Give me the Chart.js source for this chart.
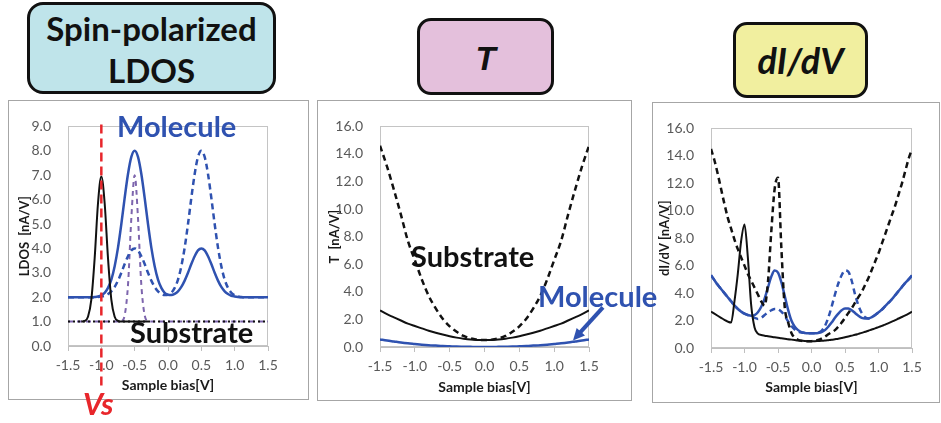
<!DOCTYPE html>
<html><head><meta charset="utf-8">
<script src="https://cdn.jsdelivr.net/npm/chart.js@4/dist/chart.umd.min.js"></script>
<style>
body{margin:0;background:#fff;}
#wrap{position:relative;width:941px;height:423px;overflow:hidden;font-family:Lato,'Liberation Sans',sans-serif;}
.tbox{position:absolute;box-sizing:border-box;border:3px solid #111;text-align:center;color:#111;font-weight:700;}
.panel{position:absolute;box-sizing:border-box;border:1px solid #a6a6a6;background:#fff;}
.panel canvas{display:block;}
.ann{position:absolute;font-weight:700;line-height:1;white-space:nowrap;}
</style></head><body>
<div id="wrap">
  <div class="tbox" style="left:27px;top:2px;width:249px;height:92px;border-radius:16px;background:#bfe4ea;font-size:33px;line-height:42px;padding-top:2px;">Spin-polarized<br>LDOS</div>
  <div class="tbox" style="left:417px;top:18px;width:137px;height:77px;border-radius:14px;background:#e4c0dc;font-family:'Liberation Sans',Arial,sans-serif;font-style:italic;font-size:33px;line-height:71px;padding-top:2px;">T</div>
  <div class="tbox" style="left:733px;top:22px;width:135px;height:76px;border-radius:14px;background:#f1ef9f;font-style:italic;font-size:36px;line-height:70px;">dI/dV</div>

  <div class="panel" style="left:8px;top:100px;width:301px;height:300px;"><canvas id="c1" width="299" height="298" style="width:299px;height:298px;"></canvas></div>
  <div class="panel" style="left:317px;top:100px;width:315px;height:301px;"><canvas id="c2" width="313" height="299" style="width:313px;height:299px;"></canvas></div>
  <div class="panel" style="left:652px;top:102px;width:288px;height:301px;"><canvas id="c3" width="286" height="299" style="width:286px;height:299px;"></canvas></div>

  <span class="ann" style="left:117px;top:111px;font-size:29px;color:#2f52b0;">Molecule</span>
  <span class="ann" style="left:130px;top:317px;font-size:29px;color:#111;">Substrate</span>
  <span class="ann" style="left:411px;top:241px;font-size:29px;color:#111;">Substrate</span>
  <span class="ann" style="left:538px;top:281px;font-size:29px;color:#2f52b0;">Molecule</span>
  <span class="ann" style="left:83px;top:388px;font-size:31px;color:#e8262b;font-style:italic;">Vs</span>
</div>
<script>
// ---------- data ----------
const bias = [-1.5,-1.45,-1.4,-1.35,-1.3,-1.25,-1.2,-1.15,-1.1,-1.05,
  -1.0,-0.95,-0.9,-0.85,-0.8,-0.75,-0.7,-0.65,-0.6,-0.55,
  -0.5,-0.45,-0.4,-0.35,-0.3,-0.25,-0.2,-0.15,-0.1,-0.05,
  0,
  0.05,0.1,0.15,0.2,0.25,0.3,0.35,0.4,0.45,0.5,
  0.55,0.6,0.65,0.7,0.75,0.8,0.85,0.9,0.95,1.0,
  1.05,1.1,1.15,1.2,1.25,1.3,1.35,1.4,1.45,1.5];
const biasSub = [-1.3,-1.25,-1.2,-1.15,-1.1,-1.05,-1.0,-0.95,-0.9,-0.85,-0.8,-0.75,-0.7,-0.65,-0.6,-0.55,-0.5,-0.45,-0.4,-0.35,-0.3];
const biasEnds = [-1.5, 1.5];
const biasT = [-1.5,-1.4,-1.3,-1.2,-1.1,-1.0,-0.9,-0.8,-0.7,-0.6,-0.5,-0.4,-0.3,-0.2,-0.1,0,0.1,0.2,0.3,0.4,0.5,0.6,0.7,0.8,0.9,1.0,1.1,1.2,1.3,1.4,1.5];

const xTickValues = [-1.5,-1.0,-0.5,0,0.5,1.0,1.5];
const xTickLabels = ['-1.5','-1.0','-0.5','0.0','0.5','1.0','1.5'];
const ldosTickValues = [0,1,2,3,4,5,6,7,8,9];
const ldosTickLabels = ['0.0','1.0','2.0','3.0','4.0','5.0','6.0','7.0','8.0','9.0'];
const tTickValues = [0,2,4,6,8,10,12,14,16];
const tTickLabels = ['0.0','2.0','4.0','6.0','8.0','10.0','12.0','14.0','16.0'];

const vsBias = -1.0;

// LDOS panel
const ldosMolSolid = [2.0,2.0,2.0,2.0,2.0,2.0,2.0,2.0,2.01,2.03,
  2.08,2.18,2.38,2.72,3.27,4.03,5.0,6.07,7.05,7.75,
  8.0,7.75,7.05,6.07,5.0,4.03,3.27,2.72,2.38,2.18,
  2.1,
  2.09,2.14,2.24,2.42,2.68,3.0,3.36,3.68,3.92,4.0,
  3.92,3.68,3.36,3.0,2.68,2.42,2.24,2.13,2.06,2.03,
  2.01,2.0,2.0,2.0,2.0,2.0,2.0,2.0,2.0,2.0];
const ldosMolDashed = [2.0,2.0,2.0,2.0,2.0,2.0,2.0,2.0,2.0,2.01,
  2.03,2.06,2.13,2.24,2.42,2.68,3.0,3.36,3.68,3.92,
  4.0,3.92,3.68,3.36,3.0,2.68,2.42,2.24,2.14,2.09,
  2.1,
  2.18,2.38,2.72,3.27,4.03,5.0,6.07,7.05,7.75,8.0,
  7.75,7.05,6.07,5.0,4.03,3.27,2.72,2.38,2.18,2.08,
  2.03,2.01,2.0,2.0,2.0,2.0,2.0,2.0,2.0,2.0];
const ldosPurple = [1.0,1.0,1.0,1.0,1.0,1.0,1.0,1.0,1.0,1.0,
  1.0,1.0,1.0,1.0,1.0,1.0,1.02,1.26,2.5,5.24,
  7.0,5.24,2.5,1.26,1.02,1.0,1.0,1.0,1.0,1.0,
  1.0,
  1.0,1.0,1.0,1.0,1.0,1.0,1.0,1.0,1.0,1.0,
  1.0,1.0,1.0,1.0,1.0,1.0,1.0,1.0,1.0,1.0,
  1.0,1.0,1.0,1.0,1.0,1.0,1.0,1.0,1.0,1.0];
const ldosSubSolid = [1.0,1.03,1.2,1.9,3.6,5.85,6.95,5.85,3.6,1.9,1.2,1.03,1.0,1.0,1.0,1.0,1.0,1.0,1.0,1.0,1.0];
const ldosSubDotted = [1.0, 1.0];

// T panel
const tSubDashed = [14.6,13.1,11.4,9.6,7.7,6.3,4.9,3.7,2.8,2.05,1.5,1.1,0.8,0.62,0.53,0.5,0.53,0.62,0.8,1.1,1.5,2.05,2.8,3.7,4.9,6.3,7.7,9.6,11.4,13.1,14.6];
const tSubSolid = [2.65,2.38,2.15,1.92,1.7,1.52,1.35,1.18,1.03,0.9,0.78,0.68,0.6,0.54,0.51,0.5,0.51,0.54,0.6,0.68,0.78,0.9,1.03,1.18,1.35,1.52,1.7,1.92,2.15,2.38,2.65];
const tMol = [0.55,0.47,0.4,0.33,0.27,0.22,0.17,0.13,0.1,0.07,0.05,0.03,0.02,0.01,0.0,0.0,0.0,0.01,0.02,0.03,0.05,0.07,0.1,0.13,0.17,0.22,0.27,0.33,0.4,0.47,0.55];
const arrowTip = {x: 1.27, y: 0.48};

// dI/dV panel
const didvSubDashed = [14.5,13.7,12.7,11.6,10.5,9.5,8.7,7.9,7.2,6.6,
  6.0,5.4,4.9,4.4,3.9,3.4,3.1,4.8,8.5,11.6,
  12.4,7.3,3.0,1.9,1.1,0.75,0.6,0.53,0.5,0.5,
  0.5,
  0.52,0.58,0.68,0.82,1.0,1.15,1.3,1.55,1.85,2.2,
  2.55,2.9,3.3,3.7,4.1,4.6,5.1,5.7,6.3,6.9,
  7.6,8.3,9.0,9.7,10.4,11.2,12.0,12.9,13.8,14.5];
const didvSubSolid = [2.65,2.5,2.35,2.2,2.05,1.92,1.85,3.4,5.4,7.8,
  9.0,6.6,3.1,1.5,1.05,0.95,0.9,0.86,0.82,0.78,
  0.75,0.71,0.68,0.64,0.61,0.58,0.55,0.53,0.51,0.5,
  0.5,
  0.5,0.51,0.52,0.54,0.57,0.6,0.64,0.68,0.73,0.78,
  0.84,0.9,0.96,1.03,1.1,1.18,1.26,1.35,1.43,1.52,
  1.61,1.7,1.81,1.92,2.03,2.15,2.26,2.38,2.51,2.65];
const didvMolSolid = [5.3,4.95,4.6,4.3,4.0,3.7,3.4,3.1,2.85,2.65,
  2.5,2.4,2.35,2.4,2.6,3.0,3.6,4.4,5.2,5.65,
  5.5,4.8,3.8,2.8,2.0,1.55,1.3,1.15,1.1,1.08,
  1.08,
  1.08,1.1,1.15,1.3,1.55,1.85,2.2,2.5,2.75,2.88,
  2.88,2.75,2.55,2.35,2.2,2.15,2.15,2.25,2.4,2.6,
  2.8,3.05,3.3,3.55,3.85,4.15,4.45,4.75,5.0,5.3];
const didvMolDashed = [5.3,4.95,4.6,4.3,4.0,3.7,3.4,3.1,2.85,2.65,
  2.5,2.4,2.3,2.2,2.12,2.2,2.4,2.6,2.75,2.85,
  2.82,2.65,2.35,1.95,1.6,1.35,1.2,1.12,1.1,1.08,
  1.08,
  1.08,1.12,1.25,1.6,2.2,3.0,3.9,4.7,5.3,5.65,
  5.55,4.9,3.9,3.1,2.55,2.25,2.15,2.25,2.4,2.6,
  2.8,3.05,3.3,3.55,3.85,4.15,4.45,4.75,5.0,5.3];

// ---------- styles ----------
const BLUE = '#2f52b0', BLACK = '#111111', PURPLE = '#7d65ad', RED = '#e8262b';
Chart.defaults.font.family = "Lato, 'Liberation Sans', sans-serif";
Chart.defaults.color = '#595959';

function ds(xs, ys, color, width, dash) {
  return {data: xs.map((x, i) => ({x: x, y: ys[i]})), borderColor: color, borderWidth: width,
    borderDash: dash || [], cubicInterpolationMode: 'monotone', pointRadius: 0, fill: false};
}

const framePlugin = {
  id: 'frame',
  beforeDatasetsDraw(c) {
    const a = c.chartArea, ctx = c.ctx;
    ctx.save(); ctx.strokeStyle = '#c4c4c4'; ctx.lineWidth = 1;
    ctx.strokeRect(Math.round(a.left) + 0.5, Math.round(a.top) + 0.5, Math.round(a.width) - 1, Math.round(a.height) - 1);
    ctx.restore();
  }
};

function makeChart(id, o) {
  return new Chart(document.getElementById(id), {
    type: 'line',
    data: {datasets: o.datasets},
    options: {
      responsive: false, animation: false, devicePixelRatio: 1,
      layout: {padding: {left: 0, top: o.padTop, right: o.padRight, bottom: 0}},
      plugins: {legend: {display: false}, tooltip: {enabled: false}},
      elements: {point: {radius: 0}},
      scales: {
        x: {
          type: 'linear', min: -1.5, max: 1.5,
          afterBuildTicks: s => { s.ticks = xTickValues.map(v => ({value: v})); },
          afterFit: s => { s.height = o.xHeight; },
          ticks: {callback: (v, i) => xTickLabels[i], color: '#595959', font: {size: 14}, padding: 6, maxRotation: 0, autoSkip: false},
          grid: {drawOnChartArea: false, drawTicks: true, tickLength: 5, color: '#bfbfbf'},
          border: {color: '#bfbfbf'},
          title: {display: true, text: 'Sample bias[V]', color: '#1a1a1a', font: {size: 14, weight: 'bold'}, padding: {top: 0, bottom: o.xTitlePad}}
        },
        y: {
          type: 'linear', min: 0, max: o.yMax,
          afterBuildTicks: s => { s.ticks = o.yTicks.map(v => ({value: v})); },
          afterFit: s => { s.width = o.yWidth; },
          ticks: {callback: (v, i) => o.yLabels[i], color: '#595959', font: {size: 14}, padding: 17, autoSkip: false},
          grid: {drawOnChartArea: false, drawTicks: false},
          border: {color: '#bfbfbf'},
          title: {display: true, text: o.yTitle, color: '#1a1a1a', font: {size: 13, weight: 'bold'}, padding: {top: o.yTitlePad, bottom: 0}}
        }
      }
    },
    plugins: [framePlugin].concat(o.plugins || [])
  });
}

const vsPlugin = {
  id: 'vs',
  afterDatasetsDraw(c) {
    const ctx = c.ctx, x = c.scales.x.getPixelForValue(vsBias);
    ctx.save(); ctx.strokeStyle = RED; ctx.lineWidth = 2.5; ctx.setLineDash([9, 5]);
    ctx.beginPath(); ctx.moveTo(x, c.chartArea.top - 2); ctx.lineTo(x, c.chartArea.bottom + 42); ctx.stroke();
    ctx.restore();
  }
};

const arrowPlugin = {
  id: 'arrow',
  afterDatasetsDraw(c) {
    const ctx = c.ctx;
    const tx = c.scales.x.getPixelForValue(arrowTip.x), ty = c.scales.y.getPixelForValue(arrowTip.y);
    const sx = tx + 30, sy = ty - 33;
    const ang = Math.atan2(ty - sy, tx - sx), head = 13;
    ctx.save(); ctx.strokeStyle = BLUE; ctx.fillStyle = BLUE; ctx.lineWidth = 4;
    ctx.beginPath(); ctx.moveTo(sx, sy); ctx.lineTo(tx - Math.cos(ang) * head * 0.8, ty - Math.sin(ang) * head * 0.8); ctx.stroke();
    ctx.beginPath(); ctx.moveTo(tx, ty);
    ctx.lineTo(tx - head * Math.cos(ang - 0.45), ty - head * Math.sin(ang - 0.45));
    ctx.lineTo(tx - head * Math.cos(ang + 0.45), ty - head * Math.sin(ang + 0.45));
    ctx.closePath(); ctx.fill();
    ctx.restore();
  }
};

makeChart('c1', {
  padTop: 14, padRight: 40, xHeight: 53, yWidth: 59, xTitlePad: 5, yTitlePad: 8,
  yMax: 9, yTicks: ldosTickValues, yLabels: ldosTickLabels, yTitle: 'LDOS  [nA/V]',
  datasets: [
    ds(biasSub, ldosSubSolid, BLACK, 2),
    ds(bias, ldosMolSolid, BLUE, 2.5),
    ds(bias, ldosMolDashed, BLUE, 2.5, [6, 4]),
    ds(biasEnds, ldosSubDotted, BLACK, 2, [2, 3]),
    ds(bias, ldosPurple, PURPLE, 2, [5, 4])
  ],
  plugins: [vsPlugin]
});

makeChart('c2', {
  padTop: 14, padRight: 42, xHeight: 53, yWidth: 62, xTitlePad: 4, yTitlePad: 9,
  yMax: 16, yTicks: tTickValues, yLabels: tTickLabels, yTitle: 'T  [nA/V]',
  datasets: [
    ds(biasT, tMol, BLUE, 2.5),
    ds(biasT, tSubSolid, BLACK, 2),
    ds(biasT, tSubDashed, BLACK, 2.5, [6, 4])
  ],
  plugins: [arrowPlugin]
});

makeChart('c3', {
  padTop: 13, padRight: 27, xHeight: 54, yWidth: 58, xTitlePad: 6, yTitlePad: 4,
  yMax: 16, yTicks: tTickValues, yLabels: tTickLabels, yTitle: 'dI/dV [nA/V]',
  datasets: [
    ds(bias, didvSubSolid, BLACK, 2),
    ds(bias, didvSubDashed, BLACK, 2.5, [6, 4]),
    ds(bias, didvMolSolid, BLUE, 2.5),
    ds(bias, didvMolDashed, BLUE, 2.5, [6, 4])
  ]
});
</script>
</body></html>
